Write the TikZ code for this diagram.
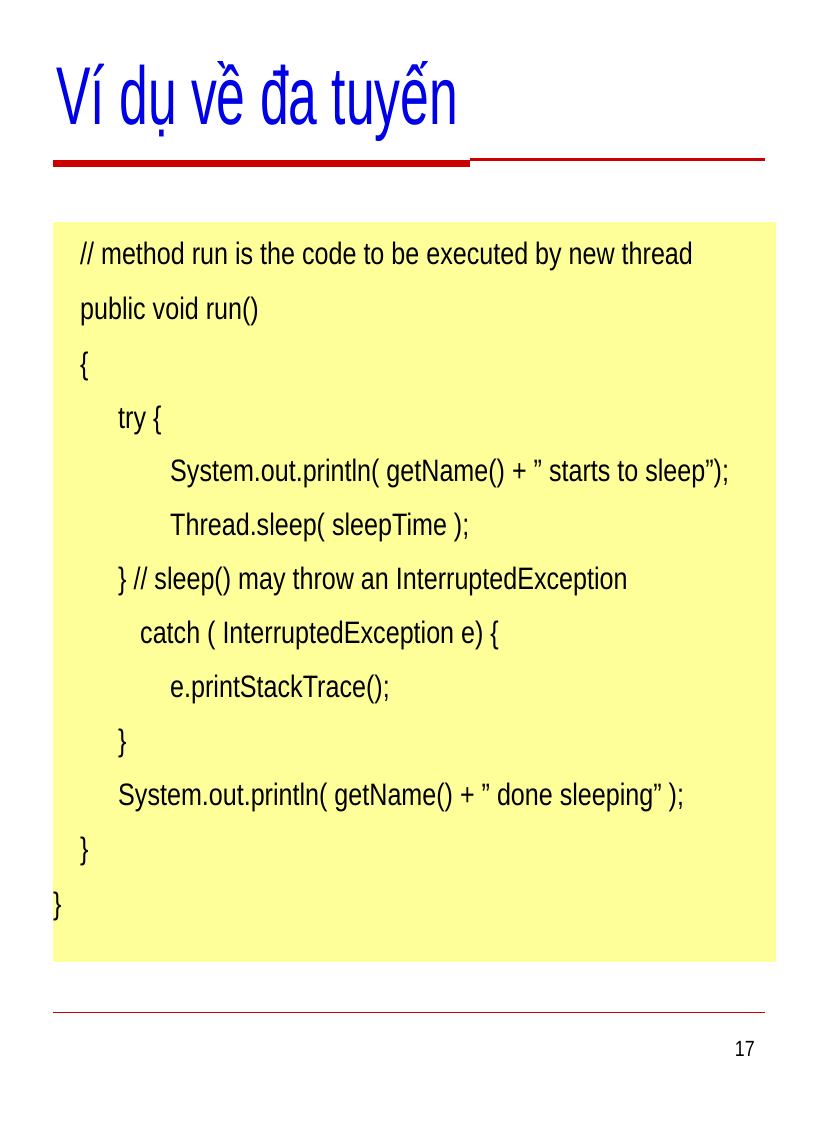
\documentclass[tikz,border=0pt]{standalone}
\usepackage{fontspec}
\setmainfont{Liberation Sans}[FakeStretch=0.81]
\newfontfamily\ttlfont{Liberation Sans}[FakeStretch=0.63]
\definecolor{ttl}{RGB}{0,0,230}
\definecolor{redl}{RGB}{204,0,0}
\definecolor{ybox}{RGB}{255,255,153}
\newcommand{\dq}{\symbol{34}}
\tikzset{code/.style={anchor=west,inner sep=0pt,font=\fontsize{31}{31}\selectfont}}
\begin{document}
\begin{tikzpicture}[x=1pt,y=-1pt]
\useasboundingbox (0,0) rectangle (816,1123);
\node[anchor=base west,inner sep=0pt,text=ttl,font=\ttlfont\fontsize{82}{82}\selectfont] (title) at (56,125) {Ví dụ về đa tuyến};
\fill[redl] (53,160) rectangle (470,167);
\fill[redl] (470,158.5) rectangle (765,161.5);
\fill[ybox] (53,222) rectangle (776,962);
\node[code] (l1) at (80,256) {// method run is the code to be executed by new thread};
\node[code] (l2) at (80,311) {public void run()};
\node[code] (l3) at (80,366) {\{};
\node[code] (l4) at (118,420) {try \{};
\node[code] (l5) at (170,473) {System.out.println( getName() + \dq{} starts to sleep\dq);};
\node[code] (l6) at (170,527) {Thread.sleep( sleepTime );};
\node[code] (l7) at (118,581) {\} // sleep() may throw an InterruptedException};
\node[code] (l8) at (140,635) {catch ( InterruptedException e) \{};
\node[code] (l9) at (170,689) {e.printStackTrace();};
\node[code] (l10) at (118,743) {\}};
\node[code] (l11) at (118,797) {System.out.println( getName() + \dq{} done sleeping\dq{} );};
\node[code] (l12) at (80,851) {\}};
\node[code] (l13) at (53,906) {\}};
\draw[redl,line width=0.8] (53,1012) -- (765,1012);
\node[anchor=base east,inner sep=0pt,font=\fontsize{22}{22}\selectfont] (pg) at (755,1056) {17};
\end{tikzpicture}
\end{document}
